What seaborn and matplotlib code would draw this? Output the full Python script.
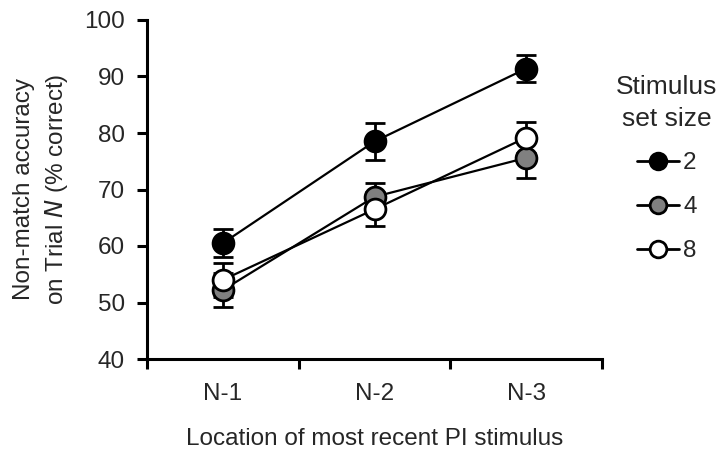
import matplotlib
matplotlib.use("Agg")
import matplotlib.pyplot as plt
import seaborn as sns
import pandas as pd
from matplotlib.lines import Line2D

categories = ["N-1", "N-2", "N-3"]
set_sizes = ["2", "4", "8"]
means_2 = [60.5, 78.5, 91.4]
means_4 = [52.2, 68.7, 75.6]
means_8 = [54.0, 66.5, 79.2]
err_2 = [2.5, 3.2, 2.4]
err_4 = [3.0, 2.5, 3.5]
err_8 = [3.0, 3.0, 2.8]
face_colors = ["black", "#808080", "white"]

sns.set_theme(style="ticks")
plt.rcParams['font.family'] = ['Liberation Sans', 'DejaVu Sans']

FS = 17.5
fig = plt.figure(figsize=(7.23, 4.51), dpi=100)
ax = fig.add_axes([147/723, 92/451, 455/723, 339/451])

series = [(means_2, err_2), (means_4, err_4), (means_8, err_8)]
xpos = [i + 0.5 for i in range(len(categories))]
handles = []
for (m, e), fc, lab in zip(series, face_colors, set_sizes):
    df = pd.DataFrame({"x": xpos, "y": m})
    ax.errorbar(xpos, m, yerr=e, fmt="none", ecolor="black", elinewidth=2.0,
                capsize=7, capthick=2.0, zorder=2)
    sns.lineplot(data=df, x="x", y="y", ax=ax, color="black", linewidth=1.6,
                 marker="o", markersize=15, markerfacecolor=fc,
                 markeredgecolor="black", markeredgewidth=2.0, zorder=3)
    handles.append(Line2D([0], [0], color="black", linewidth=2.0, marker="o",
                          markersize=12, markerfacecolor=fc,
                          markeredgecolor="black", markeredgewidth=2.0, label=lab))

ax.set_xlim(0, 3)
ax.set_ylim(40, 100)
ax.set_yticks([40, 50, 60, 70, 80, 90, 100])
ax.set_xticks([0, 1, 2, 3])
ax.set_xticklabels([])
ax.set_xticks(xpos, minor=True)
ax.set_xticklabels(categories, minor=True)
ax.tick_params(axis="x", which="minor", bottom=True, length=0, pad=17, labelsize=FS)
ax.tick_params(axis="x", which="major", bottom=True, length=7, width=2.2,
               direction="out", color="black")
ax.tick_params(axis="y", left=True, length=7, width=2.2, direction="out",
               labelsize=FS, pad=9, color="black")
for s in ["top", "right"]:
    ax.spines[s].set_visible(False)
for s in ["left", "bottom"]:
    ax.spines[s].set_linewidth(2.2)
    ax.spines[s].set_color("black")
ax.set_xlabel("Location of most recent PI stimulus", fontsize=FS, labelpad=17)
ax.set_ylabel("Non-match accuracy\non Trial $\\it{N}$ (% correct)", fontsize=FS,
              labelpad=10, linespacing=1.4)

leg = fig.legend(handles=handles, title="Stimulus\nset size", loc="upper left",
                 bbox_to_anchor=(616/723, 1 - 75/451), frameon=False, fontsize=FS,
                 title_fontsize=19, handlelength=1.75, handletextpad=0.15,
                 labelspacing=0.9, borderaxespad=0, borderpad=0)
leg.get_title().set_multialignment("center")
leg.get_title().set_linespacing(1.4)

fig.savefig("out.png", dpi=100)
